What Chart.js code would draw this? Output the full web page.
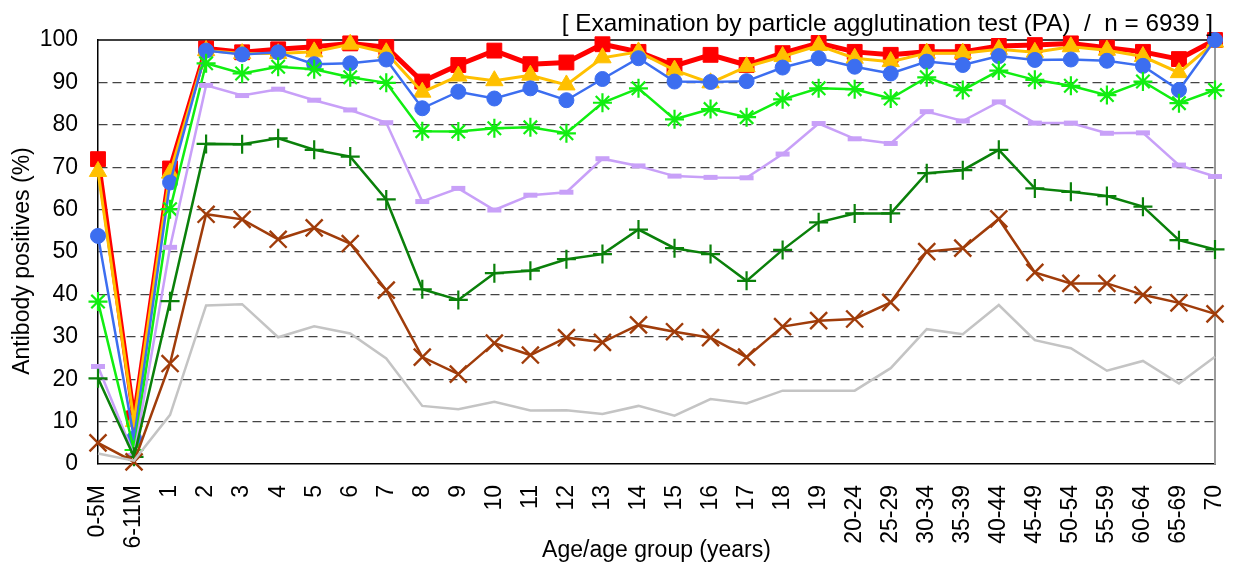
<!DOCTYPE html>
<html>
<head>
<meta charset="utf-8">
<script src="https://cdn.jsdelivr.net/npm/chart.js@4.4.1/dist/chart.umd.min.js"></script>
<style>
  html, body { margin: 0; padding: 0; background: #fff; }
  #wrap { width: 1236px; height: 570px; position: relative; }
</style>
</head>
<body>
<div id="wrap"><canvas id="c" width="1236" height="570"></canvas></div>
<script>
const categories = ['0-5M','6-11M','1','2','3','4','5','6','7','8','9','10','11','12','13','14','15','16','17','18','19','20-24','25-29','30-34','35-39','40-44','45-49','50-54','55-59','60-64','65-69','70'];
const yTicks = [0,10,20,30,40,50,60,70,80,90,100];

const seriesRed    = [71.9,10.8,69.7,98.0,97.1,97.8,98.4,99.2,98.3,90.2,94.1,97.5,94.3,94.7,99.0,97.2,93.9,96.5,94.1,96.9,99.3,97.2,96.5,97.2,97.2,98.6,98.8,99.2,98.2,97.2,95.5,100];
const seriesOrange = [69.0,10.0,68.6,97.5,96.8,96.8,97.2,99.0,97.0,87.7,91.5,90.4,91.7,89.4,95.8,97.2,92.9,89.9,93.7,96.1,98.7,95.7,94.9,96.9,96.9,97.8,97.1,98.4,97.6,96.1,92.3,99.5];
const seriesBlue   = [53.8,6.0,66.4,97.5,96.6,97.1,94.3,94.5,95.4,83.9,87.8,86.2,88.6,85.8,90.8,95.7,90.2,90.1,90.3,93.5,95.7,93.7,92.1,94.9,94.1,96.2,95.3,95.4,95.1,93.9,88.2,100];
const seriesGreen  = [38.3,3.3,60.1,94.5,92.1,93.7,93.1,91.2,89.9,78.5,78.4,79.2,79.4,78.0,85.2,88.6,81.3,83.7,81.8,86.0,88.6,88.4,86.2,91.2,88.2,92.8,90.6,89.2,87.0,90.2,85.1,88.2];
const seriesPurple = [23.0,2.0,51.1,89.3,86.9,88.4,85.8,83.5,80.5,61.9,65.0,59.9,63.4,64.1,72.0,70.3,67.9,67.6,67.5,73.1,80.3,76.7,75.6,83.1,80.9,85.4,80.4,80.4,78.0,78.1,70.5,67.8];
const seriesDkGreen= [20.2,1.7,38.4,75.5,75.4,76.8,74.1,72.5,62.4,41.2,38.7,45.0,45.6,48.3,49.5,55.3,50.9,49.5,43.2,50.5,57.0,59.1,59.1,68.6,69.3,74.1,65.0,64.2,63.2,60.7,52.8,50.6];
const seriesBrown  = [5.0,0.5,23.7,58.9,57.7,53.0,55.7,52.0,41.0,25.2,21.2,28.5,25.7,29.8,28.7,32.8,31.2,29.8,25.2,32.4,33.8,34.2,38.1,50.1,50.9,57.8,45.2,42.6,42.6,39.9,38.0,35.4];
const seriesGray   = [2.5,0.8,11.6,37.4,37.7,29.9,32.5,30.8,24.9,13.7,12.9,14.7,12.6,12.7,11.8,13.7,11.4,15.3,14.3,17.3,17.3,17.3,22.6,31.8,30.6,37.5,29.2,27.3,22.0,24.3,19.0,25.3];

const titleText = '[ Examination by particle agglutination test (PA)  /  n = 6939 ]';
const xTitle = 'Age/age group (years)';
const yTitle = 'Antibody positives (%)';

const FONT = '"Liberation Sans", Arial, sans-serif';

function ds(data, color, style, radius, lineW, pointW, order) {
  return {
    data: data,
    borderColor: color,
    backgroundColor: color,
    borderWidth: lineW,
    pointStyle: style,
    pointRadius: radius,
    pointHoverRadius: radius,
    pointBorderWidth: pointW,
    pointBackgroundColor: color,
    pointBorderColor: color,
    tension: 0,
    fill: false,
    clip: false,
    order: order
  };
}

const framePlugin = {
  id: 'framePlugin',
  beforeDatasetsDraw(chart) {
    const {ctx, chartArea: a} = chart;
    ctx.save();
    ctx.lineWidth = 1.5;
    ctx.strokeStyle = '#000';
    ctx.beginPath(); ctx.moveTo(a.left, a.top); ctx.lineTo(a.right, a.top); ctx.stroke();
    ctx.strokeStyle = '#999';
    ctx.lineWidth = 2;
    ctx.beginPath(); ctx.moveTo(a.right, a.top); ctx.lineTo(a.right, a.bottom); ctx.stroke();
    ctx.restore();
  },
  afterDraw(chart) {
    const {ctx, chartArea: a} = chart;
    ctx.save();
    ctx.fillStyle = '#000';
    ctx.textBaseline = 'alphabetic';
    ctx.font = '24.3px ' + FONT;
    ctx.textAlign = 'right';
    ctx.fillText(titleText, a.right - 2, 31);
    ctx.font = '23px ' + FONT;
    ctx.textAlign = 'center';
    ctx.fillText(xTitle, (a.left + a.right) / 2, 557);
    ctx.translate(29, 261);
    ctx.rotate(-Math.PI / 2);
    ctx.fillText(yTitle, 0, 0);
    ctx.restore();
  }
};

new Chart(document.getElementById('c'), {
  type: 'line',
  data: {
    labels: categories,
    datasets: [
      ds(seriesRed,     '#FF0000', 'rect',     10.5, 5,   1, 8),
      ds(seriesOrange,  '#FFC000', 'triangle', 10,   3,   1, 7),
      ds(seriesBlue,    '#3C6EF0', 'circle',   7.5,  2.5, 1, 6),
      ds(seriesGreen,   '#11EE11', 'star',     9.5,  2.5, 2.2, 5),
      ds(seriesPurple,  '#C8A0F8', 'line',     7,    2.5, 5, 4),
      ds(seriesDkGreen, '#0A800A', 'cross',    9.5,  2.5, 2.2, 3),
      ds(seriesBrown,   '#A03C0A', 'crossRot', 12,   2.5, 2.4, 2),
      ds(seriesGray,    '#C4C4C4', 'circle',   0,    2.5, 0, 1)
    ]
  },
  options: {
    responsive: false,
    animation: false,
    devicePixelRatio: 1,
    layout: { padding: { top: 40, right: 21, left: 0, bottom: 0 } },
    plugins: {
      legend: { display: false },
      tooltip: { enabled: false },
      title: { display: false }
    },
    scales: {
      x: {
        type: 'category',
        offset: false,
        grid: { display: false, drawTicks: false },
        border: { display: true, color: '#000', width: 1.5 },
        ticks: {
          autoSkip: false,
          minRotation: 90,
          maxRotation: 90,
          padding: 21,
          color: '#000',
          font: { family: FONT, size: 23 }
        },
        afterFit(scale) { scale.height = 106; scale.paddingLeft = 0; scale.paddingRight = 0; }
      },
      y: {
        min: 0,
        max: 100,
        afterBuildTicks(scale) { scale.ticks = yTicks.map(v => ({ value: v })); },
        grid: {
          drawTicks: false,
          lineWidth: 1.2,
          color: (c) => (c.tick && (c.tick.value === 0 || c.tick.value === 100)) ? 'rgba(0,0,0,0)' : '#444'
        },
        border: { display: true, color: '#000', width: 1.5, dash: [9, 5] },
        ticks: {
          padding: 20,
          color: '#000',
          font: { family: FONT, size: 23 }
        },
        afterFit(scale) { scale.width = 98; scale.paddingTop = 0; scale.paddingBottom = 0; }
      }
    }
  },
  plugins: [framePlugin]
});
</script>
</body>
</html>
